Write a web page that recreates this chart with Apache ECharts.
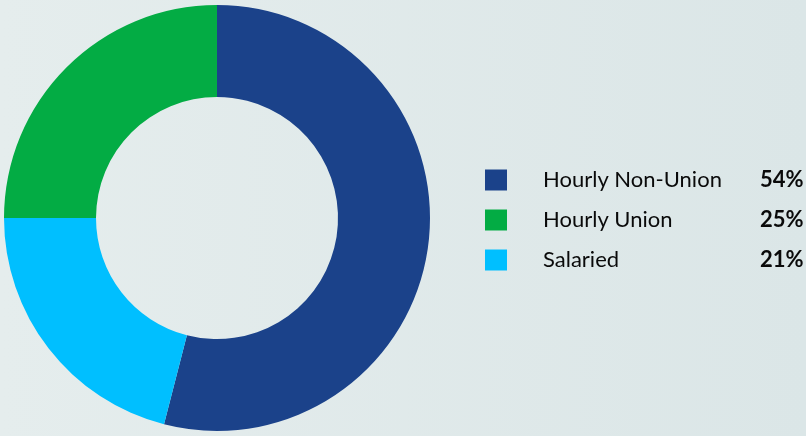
<!DOCTYPE html>
<html>
<head>
<meta charset="utf-8">
<script src="https://cdn.jsdelivr.net/npm/echarts@6/dist/echarts.min.js"></script>
<style>
  html, body { margin: 0; padding: 0; }
  #chart { width: 806px; height: 436px; }
</style>
</head>
<body>
<div id="chart"></div>
<script>
// slices in drawing order (clockwise from the top)
const categories = ['Hourly Non-Union', 'Salaried', 'Hourly Union'];
const shares = [54, 21, 25];
const colors = ['#1b428a', '#00bfff', '#03ac44'];
// legend order as shown at the right
const legendOrder = ['Hourly Non-Union', 'Hourly Union', 'Salaried'];

const chart = echarts.init(document.getElementById('chart'));

const option = {
  backgroundColor: new echarts.graphic.LinearGradient(0, 0, 1, 0, [
    { offset: 0, color: '#e5eded' },
    { offset: 1, color: '#dbe6e7' },
  ]),
  animation: false,
  legend: {
    orient: 'vertical',
    left: 485,
    top: 169,
    padding: 0,
    icon: 'rect',
    itemWidth: 22,
    itemHeight: 21,
    itemGap: 18,
    data: legendOrder,
    selectedMode: false,
    formatter: function (name) {
      const v = shares[categories.indexOf(name)];
      return '{n|' + name + '}{p|' + v + '%}';
    },
    textStyle: {
      rich: {
        n: {
          width: 217,
          padding: [0, 0, 0, 31],
          fontFamily: 'Lato',
          fontSize: 22,
          color: '#0a0a0a',
        },
        p: {
          fontFamily: 'Lato',
          fontWeight: 'bold',
          fontSize: 22,
          color: '#0a0a0a',
        },
      },
    },
  },
  series: [
    {
      type: 'pie',
      center: [217, 218],
      radius: [121, 213],
      startAngle: 90,
      clockwise: true,
      label: { show: false },
      labelLine: { show: false },
      emphasis: { disabled: true },
      data: categories.map((name, i) => ({
        name,
        value: shares[i],
        itemStyle: { color: colors[i] },
      })),
    },
  ],
};

chart.setOption(option);
</script>
</body>
</html>
